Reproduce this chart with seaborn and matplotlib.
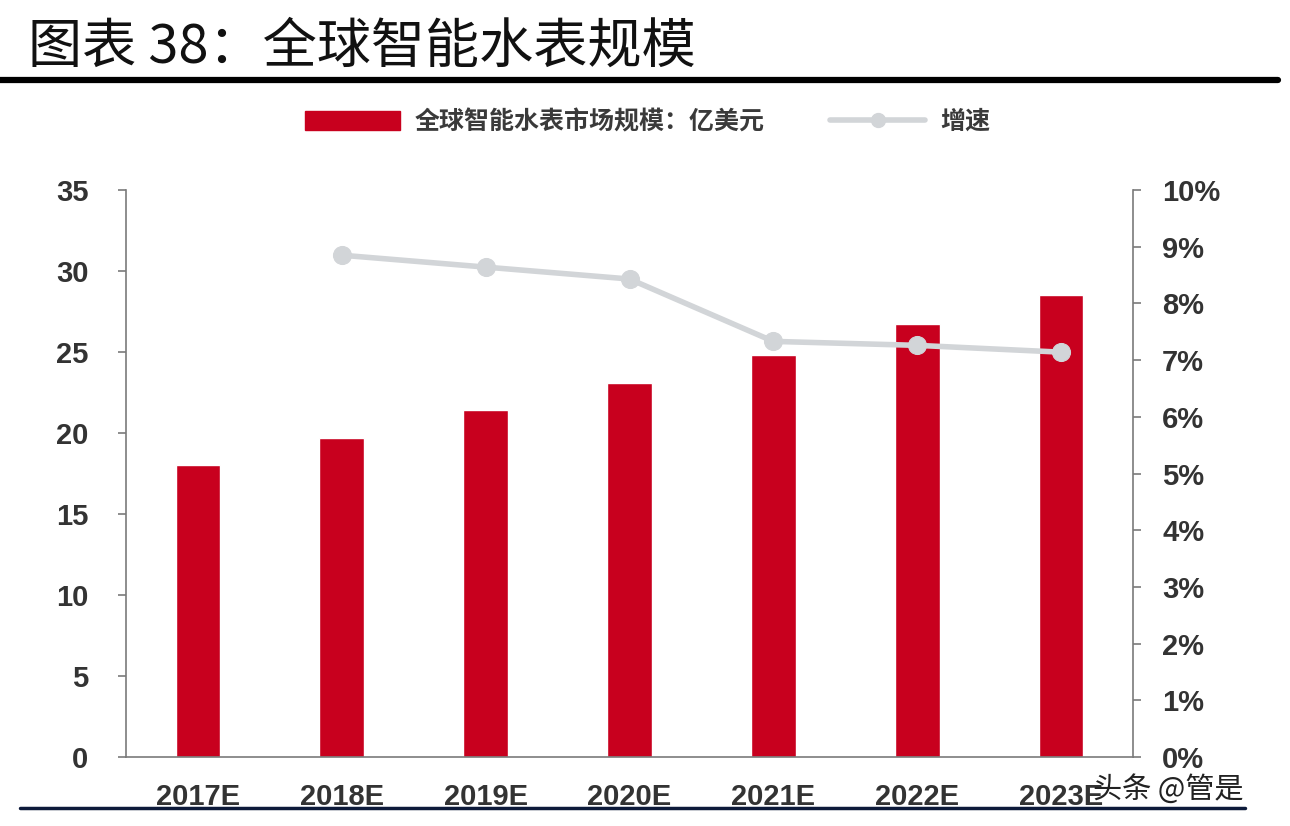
import matplotlib
matplotlib.use("Agg")
import matplotlib.pyplot as plt
import seaborn as sns
import pandas as pd
import numpy as np
from matplotlib.patches import Patch
from matplotlib.lines import Line2D

# ---- data ----
years = ["2017E", "2018E", "2019E", "2020E", "2021E", "2022E", "2023E"]
market_size = [18.0, 19.7, 21.4, 23.1, 24.8, 26.7, 28.5]  # 亿美元
growth_years = ["2018E", "2019E", "2020E", "2021E", "2022E", "2023E"]
growth_rate = [8.85, 8.64, 8.43, 7.33, 7.26, 7.14]  # %
left_ticks = [0, 5, 10, 15, 20, 25, 30, 35]
right_ticks = [0, 1, 2, 3, 4, 5, 6, 7, 8, 9, 10]

title_text = "图表 38：全球智能水表规模"
bar_label = "全球智能水表市场规模：亿美元"
line_label = "增速"

sns.set_theme(style="white")
plt.rcParams["font.family"] = ["Liberation Sans", "Noto Sans CJK SC", "DejaVu Sans"]

RED = "#c8001e"
GRAY = "#d2d5d8"
TXT = "#333333"
SPINE = "#7a7a7a"

fig = plt.figure(figsize=(12.9, 8.26), dpi=100)
fig.patch.set_facecolor("white")
ax = fig.add_axes([126 / 1290, 1 - 757 / 826, (1133 - 126) / 1290, (757 - 190) / 826])

df = pd.DataFrame({"year": years, "size": market_size})
sns.barplot(data=df, x="year", y="size", color=RED, saturation=1, width=0.31, ax=ax)
ax.set_xlim(-0.5, len(years) - 0.5)
ax.set_ylim(0, 35)
ax.set_yticks(left_ticks)
ax.set_yticklabels([str(t) for t in left_ticks])
ax.set_xlabel("")
ax.set_ylabel("")

# x ticks at category boundaries
ax.set_xticks(np.arange(len(years)))
ax.set_xticklabels(years)
ax.set_xticks(np.arange(-0.5, len(years) + 0.5, 1), minor=True)
ax.tick_params(axis="x", which="major", length=0, pad=19, labelsize=21, labelcolor=TXT)
ax.tick_params(axis="x", which="minor", length=6, width=1.2, color=SPINE, direction="out")
ax.tick_params(axis="y", length=6, width=1.2, color=SPINE, direction="out", pad=21,
               labelsize=21, labelcolor=TXT)
for lab in ax.get_xticklabels() + ax.get_yticklabels():
    lab.set_fontweight("bold")

for s in ["top", "right"]:
    ax.spines[s].set_visible(False)
for s in ["left", "bottom"]:
    ax.spines[s].set_color(SPINE)
    ax.spines[s].set_linewidth(1.2)

# growth line on secondary axis
ax2 = ax.twinx()
gx = [years.index(y) for y in growth_years]
gdf = pd.DataFrame({"x": gx, "g": growth_rate})
sns.lineplot(data=gdf, x="x", y="g", ax=ax2, color=GRAY, linewidth=4, marker="o",
             markersize=13, markeredgecolor=GRAY, markerfacecolor=GRAY)
ax2.set_ylim(0, 10)
ax2.set_yticks(right_ticks)
ax2.set_yticklabels([f"{t}%" for t in right_ticks])
ax2.set_ylabel("")
ax2.set_xlabel("")
ax2.set_xlim(-0.5, len(years) - 0.5)
ax2.tick_params(axis="y", length=6, width=1.2, color=SPINE, direction="out", pad=15,
                labelsize=21, labelcolor=TXT)
for lab in ax2.get_yticklabels():
    lab.set_fontweight("bold")
for s in ["top", "left", "bottom"]:
    ax2.spines[s].set_visible(False)
ax2.spines["right"].set_color(SPINE)
ax2.spines["right"].set_linewidth(1.2)

# legend
handles = [Patch(facecolor=RED, edgecolor=RED, label=bar_label),
           Line2D([0], [0], color=GRAY, linewidth=4, marker="o", markersize=10, label=line_label)]
leg = fig.legend(handles=handles, loc="center", bbox_to_anchor=(0.502, 1 - 122 / 826), ncol=2,
                 frameon=False, handlelength=3.8, handleheight=0.75, handletextpad=0.6,
                 columnspacing=2.6,
                 prop={"family": ["Noto Sans CJK SC", "DejaVu Sans"], "size": 18, "weight": "bold"})
for t in leg.get_texts():
    t.set_color("#3a3a3a")

# title
fig.text(28 / 1290, 1 - 47 / 826, title_text, ha="left", va="center", fontsize=39,
         color="#111111", family=["Noto Sans CJK SC", "DejaVu Sans"])
# top thick rule
fig.add_artist(Line2D([0, 1278 / 1290], [1 - 80 / 826, 1 - 80 / 826], color="black",
                      linewidth=4.5, transform=fig.transFigure))
# bottom rule
fig.add_artist(Line2D([20 / 1290, 1245 / 1290], [1 - 808 / 826, 1 - 808 / 826], color="#0d1a3a",
                      linewidth=2.5, transform=fig.transFigure))
# watermark
fig.text(1093 / 1290, 1 - 790 / 826, "头条 @管是", ha="left", va="center", fontsize=21,
         color="#222222", family=["Noto Sans CJK SC", "DejaVu Sans"])

fig.savefig("out.png", dpi=100, facecolor="white")
